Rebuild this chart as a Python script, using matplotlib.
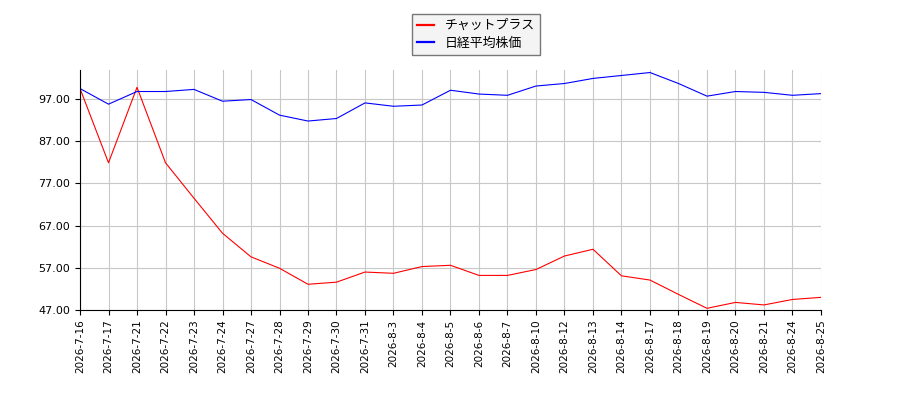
import matplotlib
matplotlib.use("Agg")
import matplotlib.pyplot as plt

plt.rcParams['font.family'] = ['Noto Sans CJK JP', 'DejaVu Sans']

dates = ["2026-7-16", "2026-7-17", "2026-7-21", "2026-7-22", "2026-7-23", "2026-7-24",
         "2026-7-27", "2026-7-28", "2026-7-29", "2026-7-30", "2026-7-31", "2026-8-3",
         "2026-8-4", "2026-8-5", "2026-8-6", "2026-8-7", "2026-8-10", "2026-8-12",
         "2026-8-13", "2026-8-14", "2026-8-17", "2026-8-18", "2026-8-19", "2026-8-20",
         "2026-8-21", "2026-8-24", "2026-8-25"]

chatplus = [99.5, 81.9, 99.8, 81.9, 73.5, 65.2, 59.6, 56.9, 53.1, 53.6, 56.0, 55.7,
            57.3, 57.6, 55.2, 55.2, 56.6, 59.8, 61.4, 55.1, 54.1, 50.7, 47.4, 48.8,
            48.2, 49.5, 50.0]

nikkei = [99.5, 95.8, 98.8, 98.8, 99.3, 96.5, 96.9, 93.2, 91.8, 92.4, 96.1, 95.3,
          95.6, 99.1, 98.2, 97.9, 100.1, 100.7, 101.9, 102.6, 103.3, 100.7, 97.7, 98.8,
          98.6, 97.9, 98.3]

yticks = [47, 57, 67, 77, 87, 97]

fig = plt.figure(figsize=(9, 4), dpi=100)
ax = fig.add_axes([0.0889, 0.225, 0.8233, 0.6])
x = list(range(len(dates)))
ax.plot(x, chatplus, color='red', linewidth=0.8, label='チャットプラス')
ax.plot(x, nikkei, color='blue', linewidth=0.8, label='日経平均株価')

ax.set_xlim(0, len(dates) - 1)
ax.set_ylim(47, 103.9)
ax.set_xticks(x)
ax.set_xticklabels(dates, rotation=90, fontsize=7.5, family='DejaVu Sans')
ax.set_yticks(yticks)
ax.set_yticklabels([f"{v:.2f}" for v in yticks], fontsize=8, family='DejaVu Sans')
ax.grid(True, color='#c8c8c8', linewidth=0.8)
ax.set_axisbelow(True)
for side in ['top', 'right']:
    ax.spines[side].set_visible(False)

leg = fig.legend(loc='upper center', bbox_to_anchor=(0.529, 0.965), borderaxespad=0,
                 fontsize=9.3, handlelength=1.3, handletextpad=0.8, labelspacing=0.35,
                 borderpad=0.4, fancybox=False, edgecolor='#777777', facecolor='#f4f4f4',
                 framealpha=1)
for line in leg.get_lines():
    line.set_linewidth(1.6)

fig.savefig("out.png")
